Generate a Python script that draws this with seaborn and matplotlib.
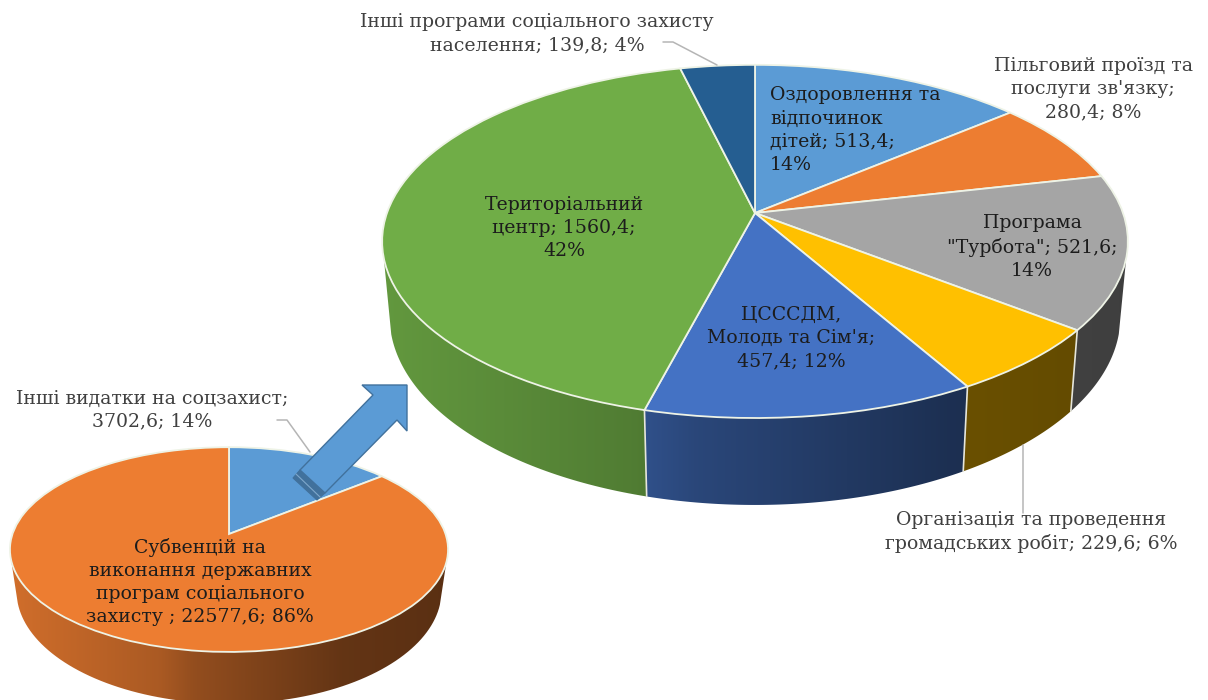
import numpy as np
import matplotlib
matplotlib.use("Agg")
import matplotlib.pyplot as plt
from matplotlib.patches import Polygon
from matplotlib.transforms import Transform
import seaborn as sns

# ---- data ----
big_values = [513.4, 280.4, 521.6, 229.6, 457.4, 1560.4, 139.8]
big_colors = ["#5B9BD5", "#ED7D31", "#A5A5A5", "#FFC000", "#4472C4", "#70AD47", "#255E91"]
small_values = [3702.6, 22577.6]
small_colors = ["#5B9BD5", "#ED7D31"]

sns.set_theme(style="white")
plt.rcParams["font.family"] = ["DejaVu Serif"]


class Perspective(Transform):
    input_dims = output_dims = 2
    is_separable = False
    has_inverse = False

    def __init__(self, cx, cy, rx, a, k):
        super().__init__()
        self.p = (cx, cy, rx, a, k)

    def transform_non_affine(self, values):
        cx, cy, rx, a, k = self.p
        values = np.asarray(values, dtype=float)
        u, v = values[:, 0], values[:, 1]
        w = 1 + k * v
        return np.column_stack([cx + rx * u / w, cy - a * v / w])


def shade(t):
    return np.interp(t, [0, .34, .42, .76, 1], [.88, .72, .62, .42, .38])


def pie3d(ax, values, colors, persp, xscale, yoff, yref, yslope, zbase):
    wedges, _ = ax.pie(values, colors=colors, startangle=90, counterclock=False,
                       wedgeprops=dict(edgecolor="#eef3e6", linewidth=1.3))
    cx, cy, rx, a, k = persp
    tr = Perspective(*persp)
    half = rx / np.sqrt(1 - k * k)
    x0, x1 = cx - half, cx + half

    def wall(theta):
        th = np.radians(theta)
        top = tr.transform_non_affine(np.column_stack([np.cos(th), np.sin(th)]))
        bot = top.copy()
        bot[:, 0] = cx + (top[:, 0] - cx) * xscale
        bot[:, 1] = top[:, 1] + yoff + (top[:, 1] - yref) * yslope
        return top, bot

    grad = shade(np.linspace(0, 1, 512))[None, :, None]
    for w, col in zip(wedges, colors):
        w.set_transform(tr + ax.transData)
        w.set_zorder(zbase + 1)
        ths = np.linspace(w.theta1, w.theta2, 181)
        ths = ths[np.sin(np.radians(ths)) <= -0.25]
        if len(ths) < 2:
            continue
        top, bot = wall(ths)
        base = np.array(matplotlib.colors.to_rgb(col))[None, None, :]
        poly = Polygon(np.vstack([top, bot[::-1]]), closed=True, transform=ax.transData)
        im = ax.imshow(grad * base, extent=(x0, x1, top[:, 1].max() + 120, top[:, 1].min() - 5),
                       aspect="auto", zorder=zbase, interpolation="bilinear")
        im.set_clip_path(poly)
        # seam at wedge boundary
        if np.sin(np.radians(w.theta1)) < -0.25:
            ax.plot([top[0, 0], bot[0, 0]], [top[0, 1], bot[0, 1]],
                    color="#e6e6dc", lw=1.2, zorder=zbase + .5)


fig = plt.figure(figsize=(12.08, 7.0), dpi=100, facecolor="white")
ax = fig.add_axes([0, 0, 1, 1])

pie3d(ax, small_values, small_colors, (229, 534, 216.5, 100, .152), .97, 43, 565, .1, 2)
pie3d(ax, big_values, big_colors, (755, 213, 368, 172, .161), .98, 76, 257, .068, 4)

ax.set_aspect("auto")
ax.set_xlim(0, 1208)
ax.set_ylim(700, 0)
ax.axis("off")

# ---- block arrow between the pies ----
ax.fill([293, 300, 325, 317], [478, 470, 493, 500], facecolor="#41719C",
        edgecolor="#41719C", lw=.8, zorder=6)
ax.plot([296, 320], [474, 497], color="#7fa8cc", lw=.8, zorder=6.5)
ax.fill([300, 373, 362, 407, 407, 397, 325], [470, 395, 385, 385, 431, 420, 493],
        facecolor="#5B9BD5", edgecolor="#41719C", lw=1, zorder=7)

# ---- leader lines ----
line = dict(color="#b5b5b5", lw=1.1, zorder=8)
ax.plot([663, 673, 717], [42, 42, 65], **line)
ax.plot([277, 287, 310], [420, 420, 452], **line)
ax.plot([1023, 1023], [445, 513], **line)

# ---- labels ----
labels = [
    ("Інші програми соціального захисту\nнаселення; 139,8; 4%", 537, 34, "center", "#404040"),
    ("Пільговий проїзд та\nпослуги зв'язку;\n280,4; 8%", 1093, 89, "center", "#404040"),
    ("Оздоровлення та\nвідпочинок\nдітей; 513,4;\n14%", 770, 130, "left", "#1c1c1c"),
    ("Програма\n\"Турбота\"; 521,6;\n14%", 1032, 247, "center", "#1c1c1c"),
    ("ЦСССДМ,\nМолодь та Сім'я;\n457,4; 12%", 791, 338, "center", "#1c1c1c"),
    ("Територіальний\nцентр; 1560,4;\n42%", 564, 228, "center", "#1c1c1c"),
    ("Організація та проведення\nгромадських робіт; 229,6; 6%", 1031, 532, "center", "#404040"),
    ("Інші видатки на соцзахист;\n3702,6; 14%", 152, 410, "center", "#404040"),
    ("Субвенцій на\nвиконання державних\nпрограм соціального\nзахисту ; 22577,6; 86%", 200, 582, "center", "#1c1c1c"),
]
for txt, x, y, ha, col in labels:
    ax.text(x, y, txt, ha=ha, va="center", multialignment=ha, fontsize=13.6,
            color=col, linespacing=1.36, zorder=10)

fig.savefig("out.png", dpi=100, facecolor="white")
